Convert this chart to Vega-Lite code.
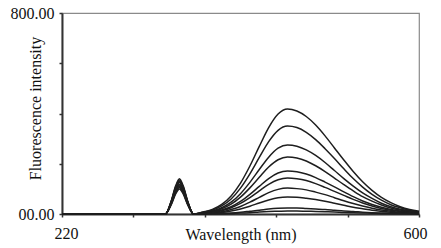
{
"$schema": "https://vega.github.io/schema/vega-lite/v6.json",
"width": 357, "height": 201,
"autosize": {"type": "none"},
"padding": {"left": 62, "top": 13, "right": 22, "bottom": 34},
"background": "white",
"config": {"view": {"stroke": "#8a8a8a", "strokeWidth": 1.2}, "font": "Liberation Serif"},
"data": {"values": [
{"c":"A","x":220,"y":0},{"c":"A","x":330,"y":0},{"c":"A","x":336,"y":49},{"c":"A","x":341,"y":112},{"c":"A","x":345,"y":140},{"c":"A","x":349,"y":112},{"c":"A","x":354,"y":49},{"c":"A","x":360,"y":0},
{"c":"A","x":370,"y":8},{"c":"A","x":380,"y":18},{"c":"A","x":390,"y":38},{"c":"A","x":400,"y":72},{"c":"A","x":410,"y":123},{"c":"A","x":420,"y":191},{"c":"A","x":430,"y":269},{"c":"A","x":440,"y":344},{"c":"A","x":450,"y":398},{"c":"A","x":460,"y":418},{"c":"A","x":470,"y":410},{"c":"A","x":480,"y":388},{"c":"A","x":490,"y":354},{"c":"A","x":500,"y":311},{"c":"A","x":510,"y":263},{"c":"A","x":520,"y":215},{"c":"A","x":530,"y":169},{"c":"A","x":540,"y":128},{"c":"A","x":550,"y":94},{"c":"A","x":560,"y":66},{"c":"A","x":570,"y":45},{"c":"A","x":580,"y":29},{"c":"A","x":590,"y":18},{"c":"A","x":600,"y":11},
{"c":"B","x":220,"y":0},{"c":"B","x":330,"y":0},{"c":"B","x":336,"y":45},{"c":"B","x":341,"y":102},{"c":"B","x":345,"y":128},{"c":"B","x":349,"y":102},{"c":"B","x":354,"y":45},{"c":"B","x":360,"y":0},
{"c":"B","x":370,"y":7},{"c":"B","x":380,"y":15},{"c":"B","x":390,"y":32},{"c":"B","x":400,"y":60},{"c":"B","x":410,"y":103},{"c":"B","x":420,"y":160},{"c":"B","x":430,"y":225},{"c":"B","x":440,"y":288},{"c":"B","x":450,"y":333},{"c":"B","x":460,"y":350},{"c":"B","x":470,"y":344},{"c":"B","x":480,"y":325},{"c":"B","x":490,"y":296},{"c":"B","x":500,"y":260},{"c":"B","x":510,"y":221},{"c":"B","x":520,"y":180},{"c":"B","x":530,"y":141},{"c":"B","x":540,"y":107},{"c":"B","x":550,"y":78},{"c":"B","x":560,"y":55},{"c":"B","x":570,"y":37},{"c":"B","x":580,"y":25},{"c":"B","x":590,"y":15},{"c":"B","x":600,"y":9},
{"c":"C","x":220,"y":0},{"c":"C","x":330,"y":0},{"c":"C","x":336,"y":47},{"c":"C","x":341,"y":108},{"c":"C","x":345,"y":135},{"c":"C","x":349,"y":108},{"c":"C","x":354,"y":47},{"c":"C","x":360,"y":0},
{"c":"C","x":370,"y":5},{"c":"C","x":380,"y":12},{"c":"C","x":390,"y":25},{"c":"C","x":400,"y":47},{"c":"C","x":410,"y":81},{"c":"C","x":420,"y":126},{"c":"C","x":430,"y":177},{"c":"C","x":440,"y":226},{"c":"C","x":450,"y":262},{"c":"C","x":460,"y":275},{"c":"C","x":470,"y":270},{"c":"C","x":480,"y":255},{"c":"C","x":490,"y":233},{"c":"C","x":500,"y":205},{"c":"C","x":510,"y":173},{"c":"C","x":520,"y":141},{"c":"C","x":530,"y":111},{"c":"C","x":540,"y":84},{"c":"C","x":550,"y":62},{"c":"C","x":560,"y":43},{"c":"C","x":570,"y":29},{"c":"C","x":580,"y":19},{"c":"C","x":590,"y":12},{"c":"C","x":600,"y":7},
{"c":"D","x":220,"y":0},{"c":"D","x":330,"y":0},{"c":"D","x":336,"y":41},{"c":"D","x":341,"y":94},{"c":"D","x":345,"y":118},{"c":"D","x":349,"y":94},{"c":"D","x":354,"y":41},{"c":"D","x":360,"y":0},
{"c":"D","x":370,"y":4},{"c":"D","x":380,"y":10},{"c":"D","x":390,"y":21},{"c":"D","x":400,"y":39},{"c":"D","x":410,"y":67},{"c":"D","x":420,"y":104},{"c":"D","x":430,"y":146},{"c":"D","x":440,"y":187},{"c":"D","x":450,"y":216},{"c":"D","x":460,"y":227},{"c":"D","x":470,"y":223},{"c":"D","x":480,"y":211},{"c":"D","x":490,"y":192},{"c":"D","x":500,"y":169},{"c":"D","x":510,"y":143},{"c":"D","x":520,"y":117},{"c":"D","x":530,"y":92},{"c":"D","x":540,"y":69},{"c":"D","x":550,"y":51},{"c":"D","x":560,"y":36},{"c":"D","x":570,"y":24},{"c":"D","x":580,"y":16},{"c":"D","x":590,"y":10},{"c":"D","x":600,"y":6},
{"c":"E","x":220,"y":0},{"c":"E","x":330,"y":0},{"c":"E","x":336,"y":44},{"c":"E","x":341,"y":100},{"c":"E","x":345,"y":125},{"c":"E","x":349,"y":100},{"c":"E","x":354,"y":44},{"c":"E","x":360,"y":0},
{"c":"E","x":370,"y":3},{"c":"E","x":380,"y":8},{"c":"E","x":390,"y":16},{"c":"E","x":400,"y":29},{"c":"E","x":410,"y":50},{"c":"E","x":420,"y":78},{"c":"E","x":430,"y":110},{"c":"E","x":440,"y":141},{"c":"E","x":450,"y":163},{"c":"E","x":460,"y":171},{"c":"E","x":470,"y":168},{"c":"E","x":480,"y":159},{"c":"E","x":490,"y":145},{"c":"E","x":500,"y":127},{"c":"E","x":510,"y":108},{"c":"E","x":520,"y":88},{"c":"E","x":530,"y":69},{"c":"E","x":540,"y":52},{"c":"E","x":550,"y":38},{"c":"E","x":560,"y":27},{"c":"E","x":570,"y":18},{"c":"E","x":580,"y":12},{"c":"E","x":590,"y":8},{"c":"E","x":600,"y":5},
{"c":"F","x":220,"y":0},{"c":"F","x":330,"y":0},{"c":"F","x":336,"y":39},{"c":"F","x":341,"y":88},{"c":"F","x":345,"y":110},{"c":"F","x":349,"y":88},{"c":"F","x":354,"y":39},{"c":"F","x":360,"y":0},
{"c":"F","x":370,"y":3},{"c":"F","x":380,"y":6},{"c":"F","x":390,"y":13},{"c":"F","x":400,"y":25},{"c":"F","x":410,"y":42},{"c":"F","x":420,"y":65},{"c":"F","x":430,"y":92},{"c":"F","x":440,"y":118},{"c":"F","x":450,"y":136},{"c":"F","x":460,"y":143},{"c":"F","x":470,"y":140},{"c":"F","x":480,"y":133},{"c":"F","x":490,"y":121},{"c":"F","x":500,"y":106},{"c":"F","x":510,"y":90},{"c":"F","x":520,"y":74},{"c":"F","x":530,"y":58},{"c":"F","x":540,"y":44},{"c":"F","x":550,"y":32},{"c":"F","x":560,"y":22},{"c":"F","x":570,"y":15},{"c":"F","x":580,"y":10},{"c":"F","x":590,"y":6},{"c":"F","x":600,"y":4},
{"c":"G","x":220,"y":0},{"c":"G","x":330,"y":0},{"c":"G","x":336,"y":46},{"c":"G","x":341,"y":104},{"c":"G","x":345,"y":130},{"c":"G","x":349,"y":104},{"c":"G","x":354,"y":46},{"c":"G","x":360,"y":0},
{"c":"G","x":370,"y":2},{"c":"G","x":380,"y":5},{"c":"G","x":390,"y":9},{"c":"G","x":400,"y":18},{"c":"G","x":410,"y":30},{"c":"G","x":420,"y":47},{"c":"G","x":430,"y":66},{"c":"G","x":440,"y":85},{"c":"G","x":450,"y":98},{"c":"G","x":460,"y":103},{"c":"G","x":470,"y":101},{"c":"G","x":480,"y":96},{"c":"G","x":490,"y":87},{"c":"G","x":500,"y":77},{"c":"G","x":510,"y":65},{"c":"G","x":520,"y":53},{"c":"G","x":530,"y":42},{"c":"G","x":540,"y":32},{"c":"G","x":550,"y":23},{"c":"G","x":560,"y":16},{"c":"G","x":570,"y":11},{"c":"G","x":580,"y":7},{"c":"G","x":590,"y":5},{"c":"G","x":600,"y":3},
{"c":"H","x":220,"y":0},{"c":"H","x":330,"y":0},{"c":"H","x":336,"y":37},{"c":"H","x":341,"y":84},{"c":"H","x":345,"y":105},{"c":"H","x":349,"y":84},{"c":"H","x":354,"y":37},{"c":"H","x":360,"y":0},
{"c":"H","x":370,"y":1},{"c":"H","x":380,"y":3},{"c":"H","x":390,"y":6},{"c":"H","x":400,"y":12},{"c":"H","x":410,"y":20},{"c":"H","x":420,"y":31},{"c":"H","x":430,"y":44},{"c":"H","x":440,"y":56},{"c":"H","x":450,"y":65},{"c":"H","x":460,"y":68},{"c":"H","x":470,"y":67},{"c":"H","x":480,"y":63},{"c":"H","x":490,"y":58},{"c":"H","x":500,"y":51},{"c":"H","x":510,"y":43},{"c":"H","x":520,"y":35},{"c":"H","x":530,"y":27},{"c":"H","x":540,"y":21},{"c":"H","x":550,"y":15},{"c":"H","x":560,"y":11},{"c":"H","x":570,"y":7},{"c":"H","x":580,"y":5},{"c":"H","x":590,"y":3},{"c":"H","x":600,"y":2},
{"c":"I","x":220,"y":0},{"c":"I","x":330,"y":0},{"c":"I","x":336,"y":40},{"c":"I","x":341,"y":92},{"c":"I","x":345,"y":115},{"c":"I","x":349,"y":92},{"c":"I","x":354,"y":40},{"c":"I","x":360,"y":0},
{"c":"I","x":370,"y":0},{"c":"I","x":380,"y":1},{"c":"I","x":390,"y":2},{"c":"I","x":400,"y":4},{"c":"I","x":410,"y":7},{"c":"I","x":420,"y":11},{"c":"I","x":430,"y":15},{"c":"I","x":440,"y":20},{"c":"I","x":450,"y":23},{"c":"I","x":460,"y":24},{"c":"I","x":470,"y":24},{"c":"I","x":480,"y":22},{"c":"I","x":490,"y":20},{"c":"I","x":500,"y":18},{"c":"I","x":510,"y":15},{"c":"I","x":520,"y":12},{"c":"I","x":530,"y":10},{"c":"I","x":540,"y":7},{"c":"I","x":550,"y":5},{"c":"I","x":560,"y":4},{"c":"I","x":570,"y":3},{"c":"I","x":580,"y":2},{"c":"I","x":590,"y":1},{"c":"I","x":600,"y":1},
{"c":"J","x":220,"y":0},{"c":"J","x":330,"y":0},{"c":"J","x":336,"y":35},{"c":"J","x":341,"y":80},{"c":"J","x":345,"y":100},{"c":"J","x":349,"y":80},{"c":"J","x":354,"y":35},{"c":"J","x":360,"y":0},
{"c":"J","x":370,"y":0},{"c":"J","x":380,"y":1},{"c":"J","x":390,"y":1},{"c":"J","x":400,"y":2},{"c":"J","x":410,"y":4},{"c":"J","x":420,"y":5},{"c":"J","x":430,"y":8},{"c":"J","x":440,"y":10},{"c":"J","x":450,"y":11},{"c":"J","x":460,"y":12},{"c":"J","x":470,"y":12},{"c":"J","x":480,"y":11},{"c":"J","x":490,"y":10},{"c":"J","x":500,"y":9},{"c":"J","x":510,"y":8},{"c":"J","x":520,"y":6},{"c":"J","x":530,"y":5},{"c":"J","x":540,"y":4},{"c":"J","x":550,"y":3},{"c":"J","x":560,"y":2},{"c":"J","x":570,"y":1},{"c":"J","x":580,"y":1},{"c":"J","x":590,"y":1},{"c":"J","x":600,"y":0}
]},
"mark": {"type": "line", "color": "#1e1e1e", "strokeWidth": 1.5, "interpolate": "monotone"},
"encoding": {
"x": {"field": "x", "type": "quantitative",
 "scale": {"domain": [220, 600], "nice": false, "zero": false},
 "axis": {"title": "Wavelength (nm)", "values": [220, 296, 372, 448, 524, 600],
  "labelExpr": "datum.value == 220 || datum.value == 600 ? datum.value : ''",
  "labelFlush": true, "labelFlushOffset": 8,
  "grid": false, "domainColor": "#333", "domainWidth": 2, "tickColor": "#333", "tickSize": 3, "tickWidth": 1.5,
  "labelFont": "Liberation Serif", "labelFontSize": 16, "labelColor": "#111", "labelPadding": 8,
  "titleFont": "Liberation Serif", "titleFontSize": 16, "titleFontWeight": "normal", "titleColor": "#111",
  "titleY": 25, "titleBaseline": "alphabetic"}},
"y": {"field": "y", "type": "quantitative",
 "scale": {"domain": [0, 800], "nice": false},
 "axis": {"title": "Fluorescence intensity", "values": [0, 200, 400, 600, 800],
  "labelExpr": "datum.value == 800 ? '800.00' : datum.value == 0 ? '00.00' : ''",
  "labelFlush": false,
  "grid": false, "domainColor": "#333", "domainWidth": 2, "tickColor": "#333", "tickSize": 3, "tickWidth": 1.5,
  "labelFont": "Liberation Serif", "labelFontSize": 16, "labelColor": "#111", "labelPadding": 5,
  "titleFont": "Liberation Serif", "titleFontSize": 16, "titleFontWeight": "normal", "titleColor": "#111",
  "titleX": -19, "titleY": 95}},
"detail": {"field": "c", "type": "nominal"}
}
}
